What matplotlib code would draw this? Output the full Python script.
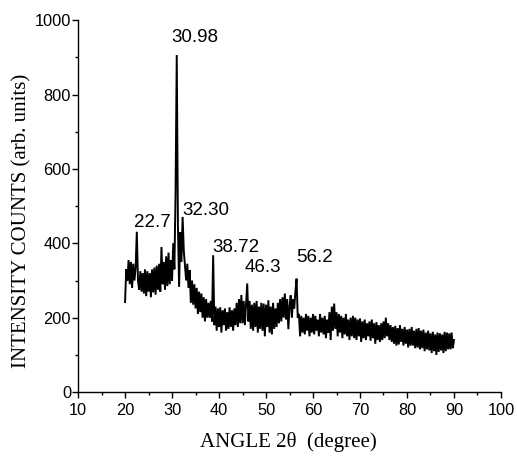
import numpy as np
import matplotlib
matplotlib.use("Agg")
import matplotlib.pyplot as plt
from matplotlib.ticker import MultipleLocator

# 2-theta grid (degrees), step 0.25 from 20 to 90
angle_start, angle_stop, angle_step = 20.0, 90.0, 0.25

# intensity, 4 samples per degree (20.00, 20.25, 20.50, 20.75 ...)
intensity = [
    242, 330, 300, 355,   # 20
    290, 350, 280, 345,   # 21
    300, 335, 431, 300,   # 22
    275, 325, 270, 320,   # 23
    265, 330, 258, 325,   # 24
    270, 320, 255, 330,   # 25
    268, 335, 262, 340,   # 26
    275, 345, 270, 390,   # 27
    290, 350, 275, 365,   # 28
    285, 375, 290, 355,   # 29
    300, 400, 330, 540,   # 30
    906, 450, 283, 430,   # 31
    350, 471, 380, 340,   # 32
    300, 345, 280, 328,   # 33
    240, 300, 235, 290,   # 34
    225, 280, 210, 270,   # 35
    215, 265, 200, 255,   # 36
    190, 250, 200, 240,   # 37
    200, 245, 190, 368,   # 38
    180, 230, 165, 225,   # 39
    175, 228, 160, 220,   # 40
    180, 225, 165, 215,   # 41
    170, 228, 175, 220,   # 42
    165, 225, 180, 240,   # 43
    175, 250, 185, 261,   # 44
    185, 245, 180, 235,   # 45
    292, 190, 245, 170,   # 46
    235, 165, 240, 175,   # 47
    245, 160, 230, 170,   # 48
    240, 165, 238, 150,   # 49
    235, 175, 247, 160,   # 50
    230, 155, 240, 170,   # 51
    225, 175, 240, 185,   # 52
    250, 190, 255, 200,   # 53
    265, 195, 250, 169,   # 54
    230, 260, 200, 250,   # 55
    225, 270, 305, 200,   # 56
    210, 150, 205, 160,   # 57
    200, 155, 210, 165,   # 58
    205, 150, 200, 160,   # 59
    210, 155, 205, 165,   # 60
    195, 150, 210, 160,   # 61
    200, 155, 205, 145,   # 62
    195, 160, 215, 140,   # 63
    230, 165, 238, 170,   # 64
    215, 150, 210, 160,   # 65
    205, 145, 200, 155,   # 66
    210, 150, 195, 140,   # 67
    200, 150, 205, 145,   # 68
    200, 140, 195, 150,   # 69
    198, 135, 190, 145,   # 70
    195, 140, 185, 150,   # 71
    190, 138, 195, 145,   # 72
    185, 130, 188, 140,   # 73
    180, 135, 185, 140,   # 74
    190, 145, 200, 150,   # 75
    185, 140, 180, 135,   # 76
    175, 130, 178, 125,   # 77
    172, 128, 180, 135,   # 78
    170, 125, 175, 130,   # 79
    168, 120, 170, 125,   # 80
    175, 125, 165, 118,   # 81
    170, 120, 172, 115,   # 82
    165, 118, 168, 110,   # 83
    160, 115, 165, 112,   # 84
    158, 105, 162, 110,   # 85
    155, 100, 160, 108,   # 86
    158, 112, 155, 105,   # 87
    162, 110, 160, 115,   # 88
    158, 115, 160, 118,   # 89
    140,                  # 90
]

peak_labels = ["30.98", "32.30", "22.7", "38.72", "46.3", "56.2"]
label_x = [34.8, 37.2, 25.9, 43.55, 49.3, 60.3]
label_y = [952, 487, 455, 390, 336, 363]

angle = np.linspace(angle_start, angle_stop, len(intensity))

fig = plt.figure(figsize=(5.17, 4.57), dpi=100)
ax = fig.add_axes([0.151, 0.142, 0.818, 0.814])

ax.plot(angle, intensity, color="black", linewidth=1.4, solid_joinstyle="miter")

ax.set_xlim(10, 100)
ax.set_ylim(0, 1000)
ax.xaxis.set_major_locator(MultipleLocator(10))
ax.xaxis.set_minor_locator(MultipleLocator(5))
ax.yaxis.set_major_locator(MultipleLocator(200))
ax.yaxis.set_minor_locator(MultipleLocator(100))

for s in ["top", "right"]:
    ax.spines[s].set_visible(False)
for s in ["left", "bottom"]:
    ax.spines[s].set_linewidth(1.0)

ax.tick_params(axis="both", which="major", direction="out", length=4.5, width=1.0)
ax.tick_params(axis="both", which="minor", direction="out", length=2.5, width=1.0)
ax.tick_params(axis="y", which="major", pad=0.5)
ax.tick_params(axis="x", which="major", pad=3.5)

for lab in ax.get_xticklabels() + ax.get_yticklabels():
    lab.set_fontfamily("Liberation Sans")
    lab.set_fontsize(11.8)

ax.set_xlabel("ANGLE 2θ  (degree)", fontfamily="Liberation Serif", fontsize=15)
ax.set_ylabel("INTENSITY COUNTS (arb. units)", fontfamily="Liberation Serif", fontsize=15)
ax.xaxis.label.set_va("center")
ax.yaxis.label.set_va("center")
ax.xaxis.set_label_coords(0.498, -0.134)
ax.yaxis.set_label_coords(-0.133, 0.46)

for t, x, y in zip(peak_labels, label_x, label_y):
    ax.text(x, y, t, ha="center", va="center", fontfamily="Liberation Sans", fontsize=13.5)

fig.savefig("out.png", dpi=100)
